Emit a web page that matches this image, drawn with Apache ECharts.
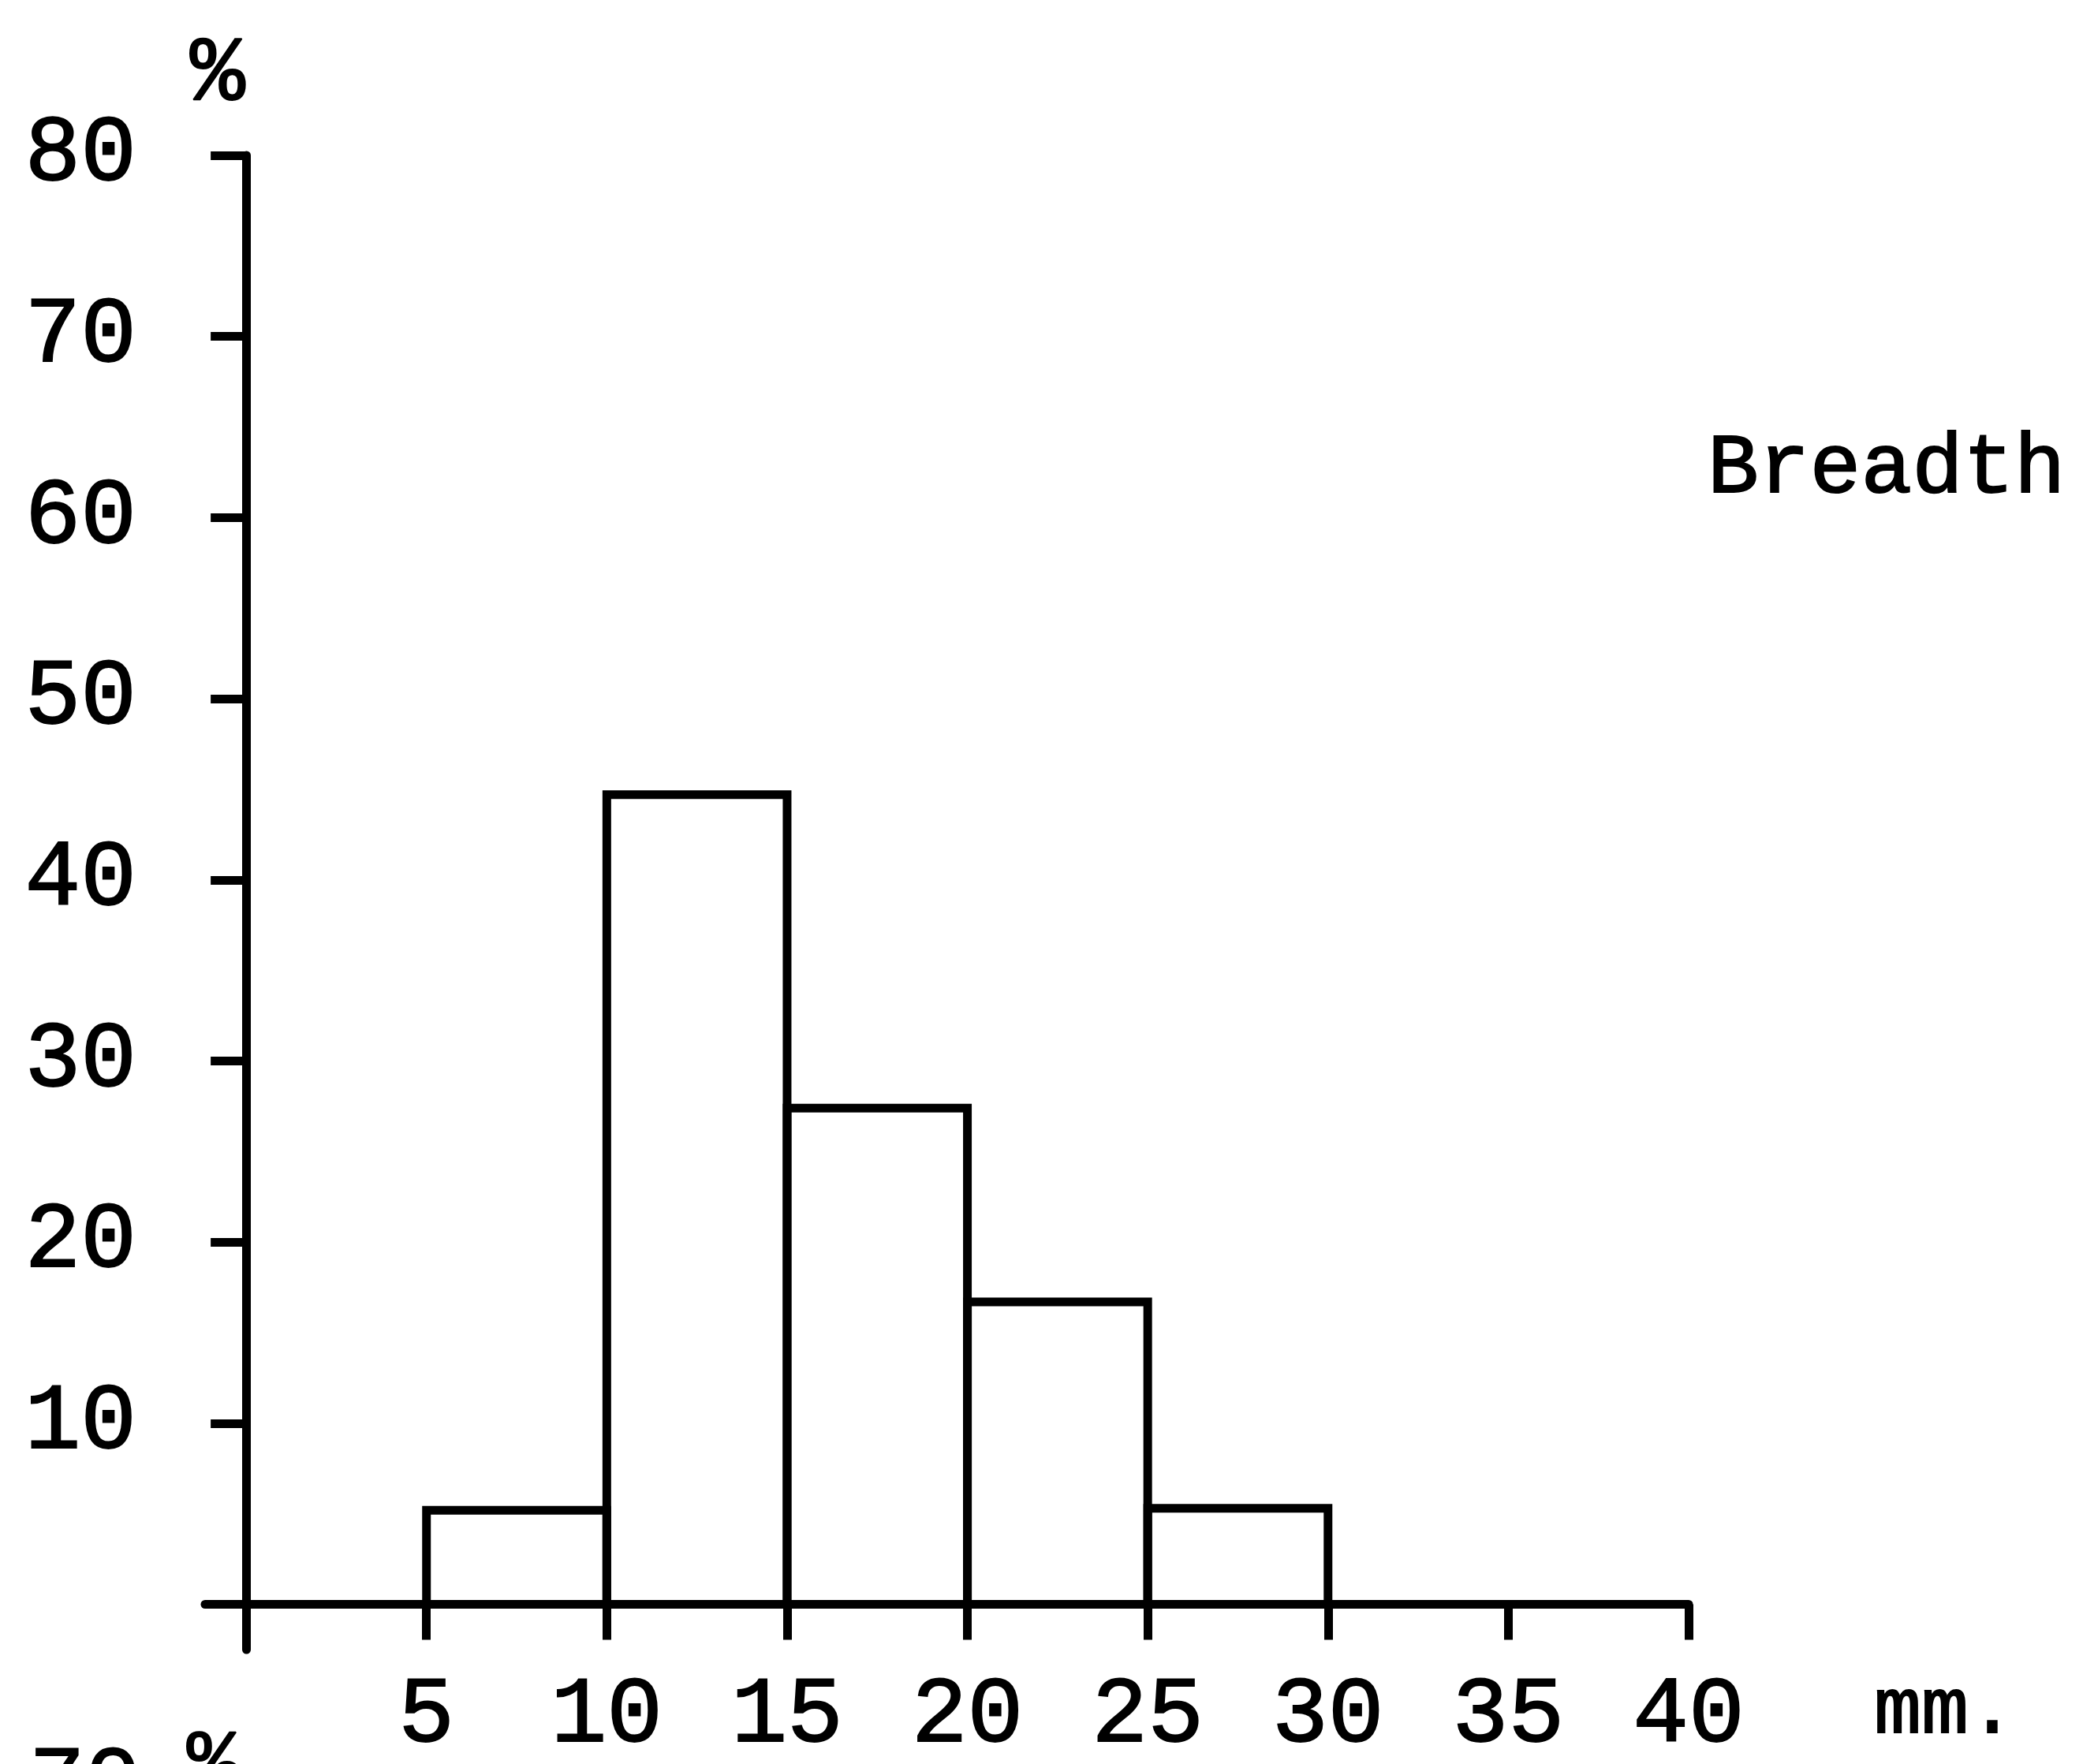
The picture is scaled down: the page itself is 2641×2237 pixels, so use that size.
<!DOCTYPE html>
<html><head><meta charset="utf-8">
<script src="https://cdn.jsdelivr.net/npm/echarts@6/dist/echarts.min.js"></script>
<style>html,body{margin:0;padding:0;background:#fff}#c{width:2641px;height:2237px}</style>
</head><body><div id="c"></div>
<script>
// ---- data ----
const binStarts = [5, 10, 15, 20, 25];
const binEnds   = [10, 15, 20, 25, 30];
const percents  = [5.2, 44.7, 27.4, 16.7, 5.3];
const xTickValues = [5, 10, 15, 20, 25, 30, 35, 40];
const yTickValues = [10, 20, 30, 40, 50, 60, 70, 80];
const chartTitle = 'Breadth';
const xUnit = 'mm.';
const yUnit = '%';
const nextPanelLabel = '70';   // label of the next (cut-off) panel
const nextPanelUnit = '%';

const FONT = 'Liberation Mono';
const chart = echarts.init(document.getElementById('c'), null, {renderer: 'canvas'});
const binData = binStarts.map((s, i) => [s, binEnds[i], percents[i]]);

const labelStyle = {color: '#000', fontFamily: FONT, fontSize: 118, fontWeight: 'normal',
  textBorderColor: '#000', textBorderWidth: 2};
const gText = (txt, size) => ({text: txt, fill: '#000', stroke: '#000', lineWidth: 2,
  font: size + 'px "' + FONT + '"'});

chart.setOption({
  backgroundColor: '#fff',
  animation: false,
  grid: {left: 260, right: 500, top: 197, height: 1895, containLabel: false, outerBoundsMode: 'none'},
  xAxis: {
    type: 'value', min: -1.14, max: 40,
    axisLine: {onZero: true, lineStyle: {color: '#000', width: 11, cap: 'round'}},
    axisTick: {show: true, customValues: xTickValues, length: 45, lineStyle: {color: '#000', width: 11}},
    axisLabel: Object.assign({customValues: xTickValues, margin: 26}, labelStyle),
    splitLine: {show: false}
  },
  yAxis: {
    type: 'value', min: -2.5, max: 80,
    axisLine: {onZero: true, lineStyle: {color: '#000', width: 11, cap: 'round'}},
    axisTick: {show: true, customValues: yTickValues, length: 45, lineStyle: {color: '#000', width: 11}},
    axisLabel: Object.assign({customValues: yTickValues, margin: 87}, labelStyle),
    splitLine: {show: false}
  },
  series: [{
    type: 'custom',
    z: 5,
    data: binData,
    encode: {x: [0, 1], y: 2},
    renderItem: function (params, api) {
      const pTop = api.coord([api.value(0), api.value(2)]);
      const pBot = api.coord([api.value(1), 0]);
      return {
        type: 'rect',
        shape: {x: pTop[0], y: pTop[1], width: pBot[0] - pTop[0], height: pBot[1] - pTop[1]},
        style: {fill: 'none', stroke: '#000', lineWidth: 11}
      };
    }
  }],
  graphic: [
    {type: 'text', left: 2164, top: 540, style: gText(chartTitle, 108)},
    {type: 'text', left: 2375, top: 2120, style: gText(xUnit, 100)},
    {type: 'text', left: 240, top: 36, style: gText(yUnit, 116)},
    {type: 'text', left: 36, top: 2205, style: gText(nextPanelLabel, 118)},
    {type: 'text', left: 236, top: 2184, style: gText(nextPanelUnit, 110)}
  ]
});
</script>
</body></html>
